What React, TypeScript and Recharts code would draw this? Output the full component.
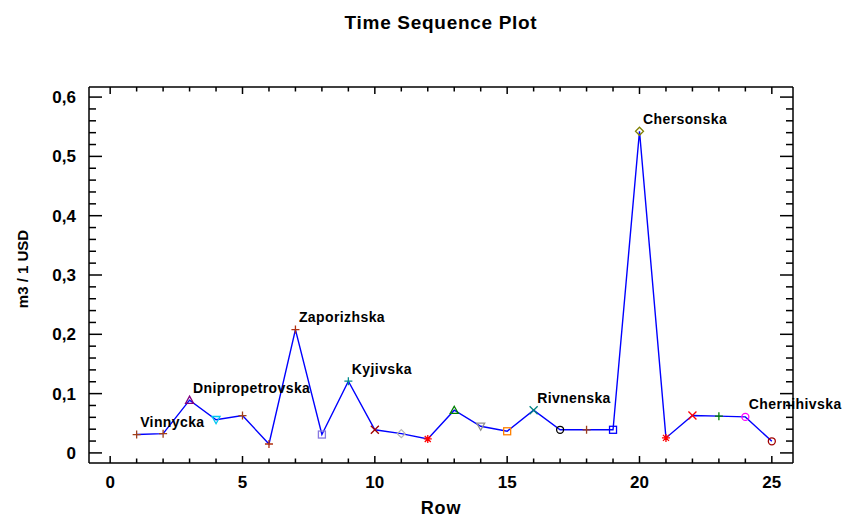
import React from 'react';
import { LineChart, Line, XAxis, YAxis, LabelList } from 'recharts';

const rows = [1, 2, 3, 4, 5, 6, 7, 8, 9, 10, 11, 12, 13, 14, 15, 16, 17, 18, 19, 20, 21, 22, 23, 24, 25];
const values = [0.031, 0.0325, 0.089, 0.056, 0.063, 0.015, 0.208, 0.031, 0.121, 0.039, 0.0325, 0.0236, 0.072, 0.045, 0.0365, 0.072, 0.039, 0.039, 0.039, 0.5424, 0.0253, 0.063, 0.062, 0.0607, 0.0196];
const regionLabels = ['Vinnycka', '', 'Dnipropetrovska', '', '', '', 'Zaporizhska', '', 'Kyjivska', '', '', '', '', '', '', 'Rivnenska', '', '', '', 'Chersonska', '', '', '', 'Chernihivska', ''];
const markerShapes = ['plus', 'plus', 'triangle', 'triangleDown', 'plus', 'plus', 'plus', 'square', 'plus', 'cross', 'diamond', 'asterisk', 'triangle', 'triangleDown', 'square', 'cross', 'circle', 'plus', 'square', 'diamond', 'asterisk', 'cross', 'plus', 'circle', 'circle'];
const markerColors = ['#a0401a', '#a0401a', '#800080', '#00c8f0', '#a0401a', '#b03010', '#b03010', '#8878e0', '#008c8c', '#a00000', '#b8b8b8', '#ff0000', '#008000', '#909090', '#ff8000', '#008080', '#000000', '#a0401a', '#0000ff', '#808000', '#ff0000', '#ff0000', '#008000', '#ff00ff', '#a00000'];

const xDomain = [-0.8, 25.8];
const yDomain = [-0.017, 0.617];
const xMajorTicks = [0, 5, 10, 15, 20, 25];
const xTicks = Array.from({ length: 26 }, (_, i) => i);
const yTicks = Array.from({ length: 31 }, (_, i) => Math.round(i * 2) / 100);

const data = rows.map((r, i) => ({ row: r, value: values[i], name: regionLabels[i] }));

const FONT = '"Liberation Sans", Arial, sans-serif';

const isYMajor = (v: number) => Math.abs(v * 10 - Math.round(v * 10)) < 1e-6;
const fmtY = (v: number) => (v === 0 ? '0' : v.toFixed(1).replace('.', ','));

const BottomTick = (props: any) => {
  const { x, y, payload } = props;
  const major = xMajorTicks.includes(payload.value);
  return (
    <g>
      <line x1={x} y1={y} x2={x} y2={y - (major ? 7 : 4.5)} stroke="#000" strokeWidth={1.5} />
      {major && (
        <text x={x} y={y + 25} textAnchor="middle" fontFamily={FONT} fontWeight="bold" fontSize={17} fill="#000">
          {payload.value}
        </text>
      )}
    </g>
  );
};

const TopTick = (props: any) => {
  const { x, y, payload } = props;
  const major = xMajorTicks.includes(payload.value);
  return <line x1={x} y1={y} x2={x} y2={y + (major ? 7 : 4.5)} stroke="#000" strokeWidth={1.5} />;
};

const LeftTick = (props: any) => {
  const { x, y, payload } = props;
  const major = isYMajor(payload.value);
  return (
    <g>
      <line x1={x} y1={y} x2={x + (major ? 13 : 7)} y2={y} stroke="#000" strokeWidth={1.5} />
      {major && (
        <text x={x - 13} y={y + 6} textAnchor="end" fontFamily={FONT} fontWeight="bold" fontSize={17} fill="#000">
          {fmtY(payload.value)}
        </text>
      )}
    </g>
  );
};

const RightTick = (props: any) => {
  const { x, y, payload } = props;
  const major = isYMajor(payload.value);
  return <line x1={x} y1={y} x2={x - (major ? 13 : 7)} y2={y} stroke="#000" strokeWidth={1.5} />;
};

const Marker = (props: any) => {
  const { cx, cy, index } = props;
  if (cx == null || cy == null) return <g key={`m${index}`} />;
  const shape = markerShapes[index];
  const c = markerColors[index];
  const r = 4;
  const common = { stroke: c, strokeWidth: 1.3, fill: 'none' };
  let el: React.ReactNode = null;
  switch (shape) {
    case 'plus':
      el = <path d={`M${cx - r},${cy}H${cx + r}M${cx},${cy - r}V${cy + r}`} {...common} />;
      break;
    case 'cross':
      el = <path d={`M${cx - r},${cy - r}L${cx + r},${cy + r}M${cx - r},${cy + r}L${cx + r},${cy - r}`} {...common} />;
      break;
    case 'asterisk':
      el = (
        <path
          d={`M${cx - r},${cy}H${cx + r}M${cx},${cy - r}V${cy + r}M${cx - r * 0.75},${cy - r * 0.75}L${cx + r * 0.75},${cy + r * 0.75}M${cx - r * 0.75},${cy + r * 0.75}L${cx + r * 0.75},${cy - r * 0.75}`}
          {...common}
        />
      );
      break;
    case 'triangle':
      el = <path d={`M${cx},${cy - r}L${cx + r},${cy + r * 0.8}L${cx - r},${cy + r * 0.8}Z`} {...common} />;
      break;
    case 'triangleDown':
      el = <path d={`M${cx},${cy + r}L${cx + r},${cy - r * 0.8}L${cx - r},${cy - r * 0.8}Z`} {...common} />;
      break;
    case 'square':
      el = <rect x={cx - 3.5} y={cy - 3.5} width={7} height={7} {...common} />;
      break;
    case 'diamond':
      el = <path d={`M${cx},${cy - r}L${cx + r},${cy}L${cx},${cy + r}L${cx - r},${cy}Z`} {...common} />;
      break;
    case 'circle':
      el = <circle cx={cx} cy={cy} r={3.5} {...common} />;
      break;
  }
  return <g key={`m${index}`}>{el}</g>;
};

const PointLabel = (props: any) => {
  const { x, y, value } = props;
  if (!value) return null;
  return (
    <text x={x + 3.5} y={y - 7.5} fontFamily={FONT} fontWeight="bold" fontSize={14} letterSpacing={0.4} fill="#000">
      {value}
    </text>
  );
};

export default function App() {
  return (
    <div style={{ position: 'absolute', left: 0, top: 0, width: 845, height: 517, background: '#fff' }}>
      <LineChart width={845} height={517} data={data} margin={{ top: 86, right: 51, bottom: 14, left: 29 }}>
        <XAxis
          xAxisId="bottom"
          type="number"
          dataKey="row"
          domain={xDomain}
          allowDataOverflow
          ticks={xTicks}
          interval={0}
          height={40}
          tickSize={0}
          tickMargin={0}
          tickLine={false}
          axisLine={{ stroke: '#000', strokeWidth: 1.5 }}
          tick={(p: any) => <BottomTick {...p} />}
        />
        <XAxis
          xAxisId="top"
          orientation="top"
          type="number"
          dataKey="row"
          domain={xDomain}
          allowDataOverflow
          ticks={xTicks}
          interval={0}
          height={1}
          tickSize={0}
          tickMargin={0}
          tickLine={false}
          axisLine={{ stroke: '#000', strokeWidth: 1.5 }}
          tick={(p: any) => <TopTick {...p} />}
        />
        <YAxis
          yAxisId="left"
          type="number"
          domain={yDomain}
          allowDataOverflow
          ticks={yTicks}
          interval={0}
          width={60}
          tickSize={0}
          tickMargin={0}
          tickLine={false}
          axisLine={{ stroke: '#000', strokeWidth: 1.5 }}
          tick={(p: any) => <LeftTick {...p} />}
        />
        <YAxis
          yAxisId="right"
          orientation="right"
          type="number"
          domain={yDomain}
          allowDataOverflow
          ticks={yTicks}
          interval={0}
          width={1}
          tickSize={0}
          tickMargin={0}
          tickLine={false}
          axisLine={{ stroke: '#000', strokeWidth: 1.5 }}
          tick={(p: any) => <RightTick {...p} />}
        />
        <Line
          xAxisId="top"
          yAxisId="right"
          dataKey="value"
          stroke="none"
          dot={false}
          activeDot={false}
          isAnimationActive={false}
        />
        <Line
          xAxisId="bottom"
          yAxisId="left"
          type="linear"
          dataKey="value"
          stroke="#0000ff"
          strokeWidth={1.4}
          dot={(p: any) => <Marker {...p} key={`dot-${p.index}`} />}
          activeDot={false}
          isAnimationActive={false}
        >
          <LabelList dataKey="name" content={(p: any) => <PointLabel {...p} />} />
        </Line>
      </LineChart>
      <svg width={845} height={517} style={{ position: 'absolute', left: 0, top: 0, pointerEvents: 'none' }}>
        <text x={441} y={29} textAnchor="middle" fontFamily={FONT} fontWeight="bold" fontSize={19} letterSpacing={0.7} fill="#000">
          Time Sequence Plot
        </text>
        <text x={441} y={514} textAnchor="middle" fontFamily={FONT} fontWeight="bold" fontSize={18} letterSpacing={0.8} fill="#000">
          Row
        </text>
        <text
          x={28}
          y={269}
          textAnchor="middle"
          fontFamily={FONT}
          fontWeight="bold"
          fontSize={15}
          fill="#000"
          transform="rotate(-90, 28, 269)"
        >
          m3 / 1 USD
        </text>
      </svg>
    </div>
  );
}
